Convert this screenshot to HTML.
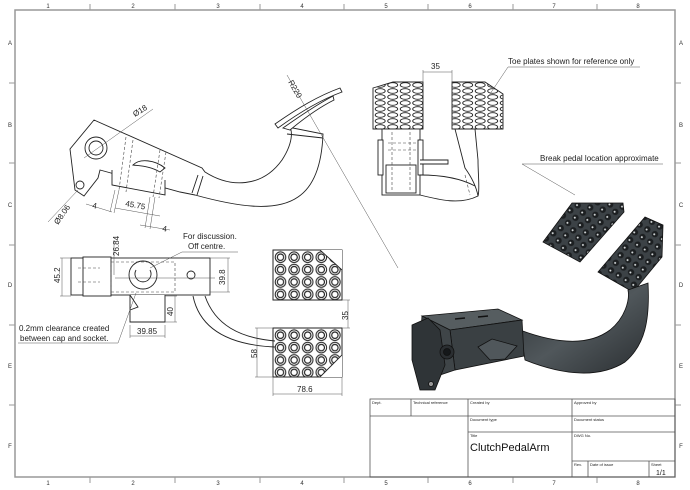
<!DOCTYPE html>
<html><head><meta charset="utf-8"><style>
html,body{margin:0;padding:0;background:#fff;}
svg{display:block;font-family:"Liberation Sans",sans-serif;}
</style></head><body>
<svg width="690" height="490" viewBox="0 0 690 490" xmlns="http://www.w3.org/2000/svg">
<defs>
<pattern id="stud" x="274" y="251" width="13.6" height="12.4" patternUnits="userSpaceOnUse">
<circle cx="6.5" cy="6.2" r="5.3" fill="#fff" stroke="#222" stroke-width="1"/>
<circle cx="6.5" cy="6.2" r="3.2" fill="none" stroke="#222" stroke-width="1.2"/>
</pattern>
<pattern id="stud2" x="274" y="329" width="13.6" height="12.4" patternUnits="userSpaceOnUse">
<circle cx="6.5" cy="6.2" r="5.3" fill="#fff" stroke="#222" stroke-width="1"/>
<circle cx="6.5" cy="6.2" r="3.2" fill="none" stroke="#222" stroke-width="1.2"/>
</pattern>
<pattern id="ov" x="374" y="82" width="12.5" height="6" patternUnits="userSpaceOnUse">
<ellipse cx="6.2" cy="3" rx="5" ry="2.3" fill="#fff" stroke="#222" stroke-width="0.9"/>
</pattern>
<pattern id="dk" width="9" height="9" patternUnits="userSpaceOnUse" patternTransform="rotate(-35)">
<rect width="9" height="9" fill="#3c4246"/>
<circle cx="4.5" cy="4.5" r="3.2" fill="#1c1f21"/>
<circle cx="4" cy="4" r="1" fill="#d8dcdd"/>
</pattern>
<pattern id="dk2" width="9" height="9" patternUnits="userSpaceOnUse" patternTransform="rotate(-58)">
<rect width="9" height="9" fill="#3c4246"/>
<circle cx="4.5" cy="4.5" r="3.2" fill="#1c1f21"/>
<circle cx="4" cy="4" r="1" fill="#d8dcdd"/>
</pattern>
<linearGradient id="arm" x1="0" y1="0" x2="1" y2="1">
<stop offset="0" stop-color="#2e3336"/><stop offset="0.5" stop-color="#50575b"/><stop offset="1" stop-color="#2a2e31"/>
</linearGradient>
</defs>

<g stroke="#999" stroke-width="1.5" fill="none">
<rect x="15" y="10" width="660" height="467"/>
</g>
<g stroke="#999" stroke-width="1">
<line x1="90" y1="4" x2="90" y2="10"/><line x1="175" y1="4" x2="175" y2="10"/><line x1="260" y1="4" x2="260" y2="10"/><line x1="344" y1="4" x2="344" y2="10"/><line x1="428" y1="4" x2="428" y2="10"/><line x1="513" y1="4" x2="513" y2="10"/><line x1="597" y1="4" x2="597" y2="10"/>
<line x1="90" y1="477" x2="90" y2="483"/><line x1="175" y1="477" x2="175" y2="483"/><line x1="260" y1="477" x2="260" y2="483"/><line x1="344" y1="477" x2="344" y2="483"/><line x1="428" y1="477" x2="428" y2="483"/><line x1="513" y1="477" x2="513" y2="483"/><line x1="597" y1="477" x2="597" y2="483"/>
<line x1="9" y1="83" x2="15" y2="83"/><line x1="9" y1="163" x2="15" y2="163"/><line x1="9" y1="245" x2="15" y2="245"/><line x1="9" y1="325" x2="15" y2="325"/><line x1="9" y1="405" x2="15" y2="405"/>
<line x1="675" y1="83" x2="681" y2="83"/><line x1="675" y1="163" x2="681" y2="163"/><line x1="675" y1="245" x2="681" y2="245"/><line x1="675" y1="325" x2="681" y2="325"/><line x1="675" y1="405" x2="681" y2="405"/>
</g>
<g font-size="6" fill="#333" text-anchor="middle">
<text x="48" y="8">1</text><text x="133" y="8">2</text><text x="218" y="8">3</text><text x="302" y="8">4</text><text x="386" y="8">5</text><text x="470" y="8">6</text><text x="554" y="8">7</text><text x="638" y="8">8</text>
<text x="48" y="485">1</text><text x="133" y="485">2</text><text x="218" y="485">3</text><text x="302" y="485">4</text><text x="386" y="485">5</text><text x="470" y="485">6</text><text x="554" y="485">7</text><text x="638" y="485">8</text>
<text x="10" y="45">A</text><text x="10" y="127">B</text><text x="10" y="207">C</text><text x="10" y="287">D</text><text x="10" y="368">E</text><text x="10" y="448">F</text>
<text x="681" y="45">A</text><text x="681" y="127">B</text><text x="681" y="207">C</text><text x="681" y="287">D</text><text x="681" y="368">E</text><text x="681" y="448">F</text>
</g>

<g stroke="#555" stroke-width="0.8" fill="none">
<rect x="370" y="399" width="305" height="78"/>
<line x1="370" y1="416" x2="675" y2="416"/>
<line x1="468" y1="432" x2="675" y2="432"/>
<line x1="572" y1="461" x2="675" y2="461"/>
<line x1="411" y1="399" x2="411" y2="416"/>
<line x1="468" y1="399" x2="468" y2="477"/>
<line x1="572" y1="399" x2="572" y2="477"/>
<line x1="588" y1="461" x2="588" y2="477"/>
<line x1="649" y1="461" x2="649" y2="477"/>
</g>
<g font-size="4" fill="#222">
<text x="372" y="404">Dept.</text><text x="413" y="404">Technical reference</text><text x="470" y="404">Created by</text><text x="574" y="404">Approved by</text>
<text x="470" y="421">Document type</text><text x="574" y="421">Document status</text>
<text x="470" y="437">Title</text><text x="574" y="437">DWG No.</text>
<text x="574" y="466">Rev.</text><text x="590" y="466">Date of issue</text><text x="651" y="466">Sheet</text>
</g>
<text x="470" y="451" font-size="11" fill="#111">ClutchPedalArm</text>
<text x="656" y="475" font-size="7" fill="#111">1/1</text>

<g stroke="#222" stroke-width="0.9" fill="#fff">
<path d="M94,120 L202,168 L205,172 C230,188 262,188 282,160 C295,140 292,126 288,127 L323,134 C322,160 316,185 298,197 C275,213 235,206 195,195 L180,192 L100,170 L98,178 L84,196 L75,190 L70,149 Z"/>
<path d="M275,124 C298,108 318,96 340,88 L342,92 C320,100 300,112 278,128 Z"/>
<path d="M283,128 C300,116 318,104 333,96 L334,100 C318,108 302,120 290,130 Z"/>
<circle cx="96" cy="148" r="11"/><circle cx="96" cy="148" r="7"/>
<circle cx="80" cy="185" r="4"/>
<path d="M112,170 L112,185 L165,195 L165,180"/>
<path d="M133,165 C140,158 155,160 165,168 L160,172 C150,166 140,166 133,165Z"/>
<path d="M198,175 L192,193 M203,176 L197,195" fill="none"/>
<path d="M287,134 L323,138" fill="none"/>
</g>
<g stroke="#444" stroke-width="0.6" fill="none" stroke-dasharray="3,2">
<path d="M126,137 L119,190 M133,140 L126,192 M160,150 L153,197 M166,152 L159,198"/>
</g>
<g stroke="#555" stroke-width="0.5" fill="none">
<line x1="84" y1="158" x2="153" y2="109"/>
<line x1="78" y1="190" x2="48" y2="222"/>
<line x1="287" y1="75" x2="398" y2="268"/>
<line x1="115" y1="190" x2="110" y2="212"/><line x1="119" y1="190" x2="114" y2="213"/>
<line x1="150" y1="197" x2="145" y2="228"/><line x1="155" y1="197" x2="150" y2="229"/>
<line x1="86" y1="204" x2="112" y2="212"/><line x1="115" y1="208" x2="160" y2="216"/>
<line x1="140" y1="225" x2="170" y2="230"/>
</g>
<g font-size="8" fill="#222">
<text x="135" y="117" transform="rotate(-32 135 117)">Ø18</text>
<text x="58" y="225" transform="rotate(-55 58 225)">Ø8.06</text>
<text x="92" y="208" transform="rotate(10 92 208)">4</text>
<text x="125" y="206" transform="rotate(10 125 206)">45.75</text>
<text x="162" y="231" transform="rotate(10 162 231)">4</text>
<text x="288" y="82" transform="rotate(60 288 82)">R220</text>
</g>

<g stroke="#222" stroke-width="0.9" fill="#fff">
<rect x="71" y="258" width="139" height="37"/>
<rect x="83" y="257" width="28" height="39"/>
<path d="M130,295 L130,322 L165,322 L165,295"/>
<path d="M130,295 L138,307 L130,310" fill="none"/>
<circle cx="143" cy="275" r="14"/>
<path d="M136,270 A8,8 0 1 0 150,270" fill="none"/>
<circle cx="191" cy="275" r="4"/>
<path d="M193,296 C200,330 230,345 275,347" fill="none"/>
<path d="M205,296 C215,325 240,338 275,341" fill="none"/>
<rect x="273" y="250" width="69" height="50" fill="url(#stud)"/>
<path d="M320,250 L342,270 L342,250 Z" fill="#fff" stroke="none"/>
<path d="M273,250 L320,250 L342,270 L342,300 L273,300 Z" fill="none"/>
<rect x="273" y="328" width="69" height="49" fill="url(#stud2)"/>
<path d="M342,355 L342,377 L320,377 Z" fill="#fff" stroke="none"/>
<path d="M273,328 L342,328 L342,355 L320,377 L273,377 Z" fill="none"/>
</g>
<g stroke="#444" stroke-width="0.6" fill="none" stroke-dasharray="3,2">
<rect x="111" y="262" width="64" height="30"/>
<path d="M78,268 L100,268 M78,282 L100,282"/>
</g>
<g stroke="#555" stroke-width="0.5" fill="none">
<line x1="60" y1="258" x2="71" y2="258"/><line x1="60" y1="296" x2="71" y2="296"/><line x1="62" y1="258" x2="62" y2="296"/>
<line x1="114" y1="240" x2="114" y2="275"/>
<line x1="210" y1="258" x2="230" y2="258"/><line x1="210" y1="292" x2="230" y2="292"/><line x1="228" y1="258" x2="228" y2="292"/>
<line x1="130" y1="325" x2="130" y2="338"/><line x1="165" y1="325" x2="165" y2="338"/><line x1="130" y1="336" x2="165" y2="336"/>
<line x1="165" y1="296" x2="177" y2="296"/><line x1="165" y1="322" x2="177" y2="322"/><line x1="175" y1="296" x2="175" y2="322"/>
<line x1="342" y1="300" x2="350" y2="300"/><line x1="342" y1="328" x2="350" y2="328"/><line x1="348" y1="300" x2="348" y2="328"/>
<line x1="255" y1="328" x2="273" y2="328"/><line x1="255" y1="377" x2="273" y2="377"/><line x1="257" y1="328" x2="257" y2="377"/>
<line x1="273" y1="377" x2="273" y2="396"/><line x1="342" y1="377" x2="342" y2="396"/><line x1="273" y1="394" x2="342" y2="394"/>
<line x1="182" y1="252" x2="238" y2="252"/><line x1="182" y1="252" x2="150" y2="268"/>
<line x1="18" y1="343" x2="118" y2="343"/><line x1="118" y1="343" x2="136" y2="293"/>
<line x1="115" y1="278" x2="215" y2="278"/>
</g>
<g font-size="8" fill="#222">
<text x="60" y="283" transform="rotate(-90 60 283)">45.2</text>
<text x="119" y="256" transform="rotate(-90 119 256)">26.84</text>
<text x="225" y="285" transform="rotate(-90 225 285)">39.8</text>
<text x="173" y="316" transform="rotate(-90 173 316)">40</text>
<text x="348" y="320" transform="rotate(-90 348 320)">35</text>
<text x="257" y="358" transform="rotate(-90 257 358)">58</text>
<text x="137" y="334">39.85</text>
<text x="297" y="392">78.6</text>
<text x="183" y="239">For discussion.</text>
<text x="188" y="249">Off centre.</text>
<text x="19" y="331">0.2mm clearance created</text>
<text x="20" y="341">between cap and socket.</text>
</g>

<g stroke="#222" stroke-width="0.9" fill="#fff">
<path d="M373,88 L393,82 L423,82 L423,129 L373,129 Z" fill="url(#ov)"/>
<path d="M452,82 L485,82 L503,94 L503,129 L452,129 Z" fill="url(#ov)"/>
<rect x="382" y="129" width="38" height="66"/>
<rect x="378" y="140" width="5" height="35"/><rect x="418" y="140" width="5" height="35"/>
<rect x="386" y="165" width="30" height="28"/>
<path d="M420,160 L448,160 L448,164 L420,164"/>
<path d="M420,195 C440,200 460,205 478,196 C476,185 470,175 465,168 L455,129 L475,129 L478,160 C478,175 480,190 478,196" fill="none"/>
<path d="M420,175 C440,175 460,178 475,186" fill="none"/>
</g>
<g stroke="#444" stroke-width="0.6" fill="none" stroke-dasharray="3,2">
<path d="M392,132 L392,190 M410,132 L410,190 M388,143 L416,143 M388,150 L416,150 M465,175 L470,195"/>
</g>
<g stroke="#555" stroke-width="0.5" fill="none">
<line x1="423" y1="70" x2="423" y2="82"/><line x1="452" y1="70" x2="452" y2="84"/><line x1="423" y1="72" x2="452" y2="72"/>
<line x1="508" y1="67" x2="640" y2="67"/><line x1="508" y1="67" x2="488" y2="97"/>
<line x1="522" y1="164" x2="663" y2="164"/><line x1="522" y1="164" x2="575" y2="195"/>
</g>
<g font-size="8" fill="#222">
<text x="431" y="69">35</text>
<text x="508" y="64">Toe plates shown for reference only</text>
<text x="540" y="161">Break pedal location approximate</text>
</g>

<g stroke="#111" stroke-width="0.8">
<path d="M543,242 L572,203 L623,203 L624,212 L580,262 Z" fill="url(#dk)"/>
<path d="M598,272 L645,217 L663,225 L662,257 L633,292 Z" fill="url(#dk2)"/>
<path d="M628,290 L648,283 C650,320 645,345 625,362 C600,378 565,376 525,360 L520,330 C560,345 590,345 610,330 C625,318 630,300 628,290 Z" fill="url(#arm)"/>
<path d="M422,316 L498,309 L522,320 L450,330 Z" fill="#565d60"/>
<path d="M450,330 L522,320 L524,356 L455,370 Z" fill="#3a4043"/>
<path d="M422,316 L450,330 L455,370 L440,375 L420,345 Z" fill="#3f4548"/>
<path d="M412,325 L428,318 L440,330 L445,365 L435,390 L420,390 L412,360 Z" fill="#2f3437"/>
<path d="M478,347 L492,339 L517,346 L505,359 L490,360 Z" fill="#50575b"/>
<circle cx="447" cy="352" r="7" fill="#2a2e31"/><circle cx="447" cy="352" r="3.5" fill="#15181a"/>
<circle cx="431" cy="384" r="2.5" fill="#999"/>
</g>
<g stroke="#111" stroke-width="1.5"><line x1="455" y1="319" x2="465" y2="318"/><line x1="478" y1="317" x2="488" y2="316"/></g>
</svg>
</body></html>
